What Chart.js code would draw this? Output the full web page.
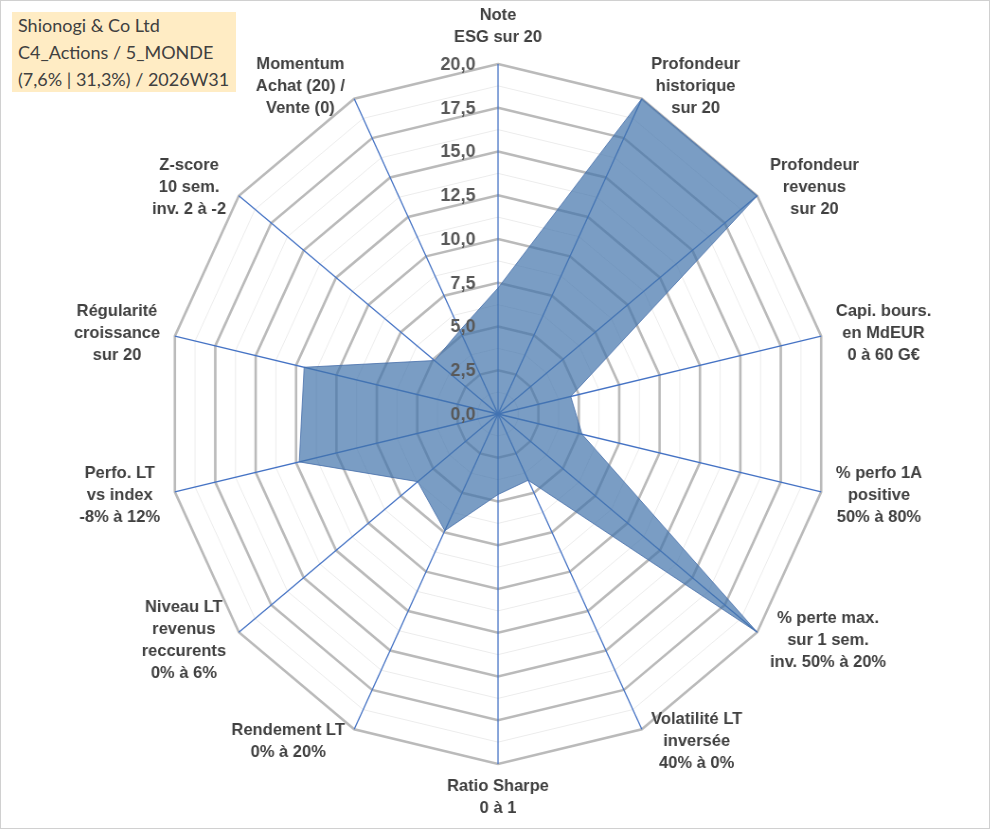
<!DOCTYPE html>
<html><head><meta charset="utf-8">
<script src="https://cdn.jsdelivr.net/npm/chart.js@4.4.1/dist/chart.umd.min.js"></script>
<style>
html,body{margin:0;padding:0;background:#fff;width:991px;height:830px;overflow:hidden;}
#wrap{position:relative;width:991px;height:830px;}
#c{position:absolute;left:0;top:0;width:991px;height:830px;transform:scaleX(0.947);transform-origin:498px 0;}
#frame{position:absolute;left:0;top:0;width:988px;height:827px;border:1px solid #d0d0d0;pointer-events:none;}
#title{position:absolute;left:12px;top:12px;width:218px;height:80px;padding-left:6px;background:#ffecc4;font-family:Lato,'Liberation Sans',sans-serif;font-size:18px;line-height:27px;color:#404040;white-space:nowrap;}
</style></head>
<body>
<div id="wrap">
<canvas id="c" width="991" height="830"></canvas>
<div id="title">Shionogi &amp; Co Ltd<br>C4_Actions / 5_MONDE<br>(7,6% | 31,3%) / 2026W31</div>
<div id="frame"></div>
</div>
<script>
const categories = [
  ["Note","ESG sur 20"],
  ["Profondeur","historique","sur 20"],
  ["Profondeur","revenus","sur 20"],
  ["Capi. bours.","en MdEUR","0 à 60 G€"],
  ["% perfo 1A","positive","50% à 80%"],
  ["% perte max.","sur 1 sem.","inv. 50% à 20%"],
  ["Volatilité LT","inversée","40% à 0%"],
  ["Ratio Sharpe","0 à 1"],
  ["Rendement LT","0% à 20%"],
  ["Niveau LT","revenus","reccurents","0% à 6%"],
  ["Perfo. LT","vs index","-8% à 12%"],
  ["Régularité","croissance","sur 20"],
  ["Z-score","10 sem.","inv. 2 à -2"],
  ["Momentum","Achat (20) /","Vente (0)"]
];
const scores = [7.2, 20, 20, 4.5, 5.2, 20, 4.2, 4.6, 7.4, 6.2, 12.3, 12.0, 4.9, 5.3];
const scaleMin = 0, scaleMax = 20, minorStep = 1.25;

const K = 0.947, OX = 498;
const fmt = v => v.toFixed(1).replace('.', ',');

const drawPlugin = {
  id: 'excelLook',
  afterDatasetsDraw(chart) {
    const ctx = chart.ctx;
    const s = chart.scales.r;
    // tick labels
    ctx.save();
    ctx.font = 'bold 18px "Liberation Sans", Arial, sans-serif';
    ctx.fillStyle = '#595959';
    ctx.textAlign = 'right';
    ctx.textBaseline = 'middle';
    s.ticks.forEach(t => {
      if (!t.label) return;
      const y = s.yCenter - s.getDistanceFromCenterForValue(t.value);
      const x = s.xCenter - 22.5 / K;
      ctx.save(); ctx.translate(x, y + 1); ctx.scale(1 / K, 1); ctx.fillText(t.label, 0, 0); ctx.restore();
    });
    ctx.restore();
    // point labels
    ctx.save();
    ctx.font = 'bold 16.5px "Liberation Sans", Arial, sans-serif';
    ctx.fillStyle = '#404040';
    ctx.textAlign = 'center';
    ctx.textBaseline = 'middle';
    const labels = chart.data.labels, n = labels.length, LH = 22;
    labels.forEach((lines, i) => {
      const ang = 2 * Math.PI * i / n;
      const p = s.getPointPosition(i, s.drawingArea);
      const sx = OX + (p.x - OX) * K;
      const w = Math.max(...lines.map(l => ctx.measureText(l).width));
      const h = lines.length * LH;
      const sn = Math.sin(ang), cs = Math.cos(ang);
      let cx, cy;
      if (Math.abs(sn) < 1e-6) {
        cx = sx; cy = cs > 0 ? p.y - 16 - h / 2 : p.y + 11 + h / 2;
      } else {
        cx = sx + Math.sign(sn) * (5 + 10 * Math.abs(sn) + w / 2);
        cy = p.y - cs * 14;
      }
      const ccx = OX + (cx - OX) / K;
      lines.forEach((ln, j) => {
        ctx.save();
        ctx.translate(ccx, cy - h / 2 + LH / 2 + j * LH);
        ctx.scale(1 / K, 1);
        ctx.fillText(ln, 0, 0);
        ctx.restore();
      });
    });
    ctx.restore();
  }
};

new Chart(document.getElementById('c'), {
  type: 'radar',
  data: {
    labels: categories,
    datasets: [{
      data: scores,
      fill: true,
      backgroundColor: 'rgba(65,115,171,0.7)',
      borderColor: 'rgba(70,110,170,0.8)',
      borderWidth: 1,
      pointRadius: 0,
      tension: 0
    }]
  },
  options: {
    responsive: false,
    animation: false,
    devicePixelRatio: 1,
    layout: { padding: { left: 148, right: 143, top: 64, bottom: 66 } },
    plugins: { legend: { display: false }, tooltip: { enabled: false } },
    scales: {
      r: {
        min: scaleMin, max: scaleMax,
        ticks: { stepSize: minorStep, display: false, callback: (v, i) => (i % 2 === 0 ? fmt(v) : '') },
        grid: {
          circular: false,
          color: c => (c.index % 2 === 0 ? '#bababa' : '#ececec'),
          lineWidth: c => (c.index % 2 === 0 ? 2.6 : 1)
        },
        angleLines: { color: '#4472c4', lineWidth: 1.3 },
        pointLabels: { display: false }
      }
    }
  },
  plugins: [drawPlugin]
});
</script>
</body></html>
